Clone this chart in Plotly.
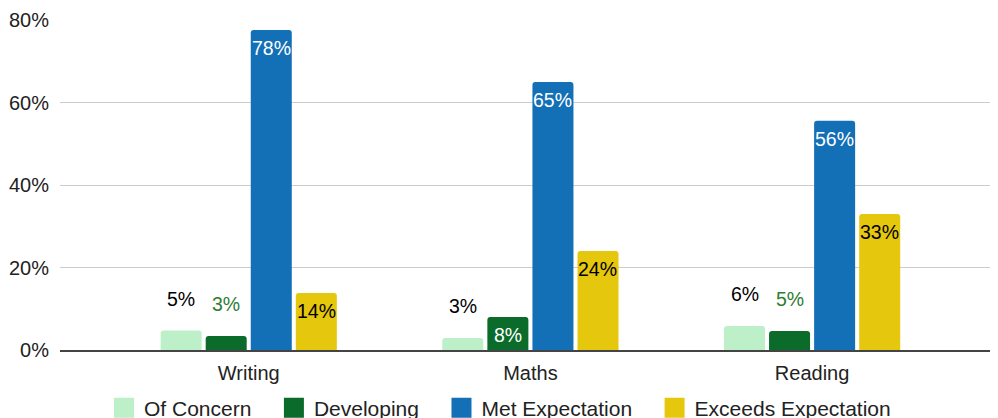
import plotly.graph_objects as go

categories = ["Writing", "Maths", "Reading"]
series_names = ["Of Concern", "Developing", "Met Expectation", "Exceeds Expectation"]
of_concern = [4.7, 2.9, 5.8]
developing = [3.4, 8.0, 4.6]
met_expectation = [77.6, 65.0, 55.6]
exceeds_expectation = [13.8, 24.0, 33.0]
y_ticks = [0, 20, 40, 60, 80]

colors = ["#bdf0c8", "#0a6b2a", "#136fb6", "#e5c70e"]
values = [of_concern, developing, met_expectation, exceeds_expectation]
# label mode per series & category: "in" = inside top, "out" = above bar
modes = [["out", "out", "out"], ["out", "in", "out"], ["in", "in", "in"], ["in", "in", "in"]]
in_colors = ["#000000", "#ffffff", "#ffffff", "#000000"]
out_colors = ["#000000", "#2e7d32", "#000000", "#000000"]
offsets_px = [-67.5, -22.5, 22.5, 67.5]

FONT = "Liberation Sans, Arial, sans-serif"
TXT = "#222222"
fig = go.Figure()
annotations = []
for i, name in enumerate(series_names):
    fig.add_trace(go.Bar(
        name=name, x=categories, y=values[i], marker_color=colors[i],
        marker_line_width=0, showlegend=False, hoverinfo="skip",
    ))
    for j, v in enumerate(values[i]):
        inside = modes[i][j] == "in"
        annotations.append(dict(
            x=categories[j], y=v, xref="x", yref="y", text=f"{round(v)}%",
            showarrow=False, xshift=offsets_px[i],
            yshift=-18 if inside else 32, yanchor="middle",
            font=dict(color=in_colors[i] if inside else out_colors[i], size=19.5, family=FONT),
        ))

# legend entries with large square swatches
for i, name in enumerate(series_names):
    fig.add_trace(go.Scatter(
        name=name + "&nbsp;&nbsp;&nbsp;", x=[None], y=[None], mode="markers",
        marker=dict(symbol="square", size=16, color=colors[i],
                    line=dict(width=4, color=colors[i])),
        showlegend=True, hoverinfo="skip",
    ))

# page body adds an 8px offset, so the figure is 990x410
fig.update_layout(
    width=990, height=410,
    margin=dict(l=52, r=0, t=12, b=68, autoexpand=False),
    paper_bgcolor="white", plot_bgcolor="white",
    barmode="group", bargap=0.36, bargroupgap=0.09, barcornerradius=3,
    font=dict(family=FONT, size=20, color=TXT),
    xaxis=dict(range=[-0.67, 2.66], showgrid=False, showline=True,
               linecolor="#444444", linewidth=2, ticks="",
               tickfont=dict(size=20, color=TXT), ticklabelstandoff=4),
    yaxis=dict(range=[0, 80], tickvals=y_ticks, ticktext=[f"{t}%" for t in y_ticks],
               showgrid=True, gridcolor="#cccccc", gridwidth=1, zeroline=False,
               ticks="", ticklabelstandoff=10,
               tickfont=dict(size=20, color=TXT)),
    legend=dict(orientation="h", x=0.4787, xanchor="center", y=-0.176, yanchor="middle",
                font=dict(size=21, color=TXT), itemsizing="trace",
                traceorder="normal", itemwidth=30),
    annotations=annotations,
)

fig.write_html("out.html")
